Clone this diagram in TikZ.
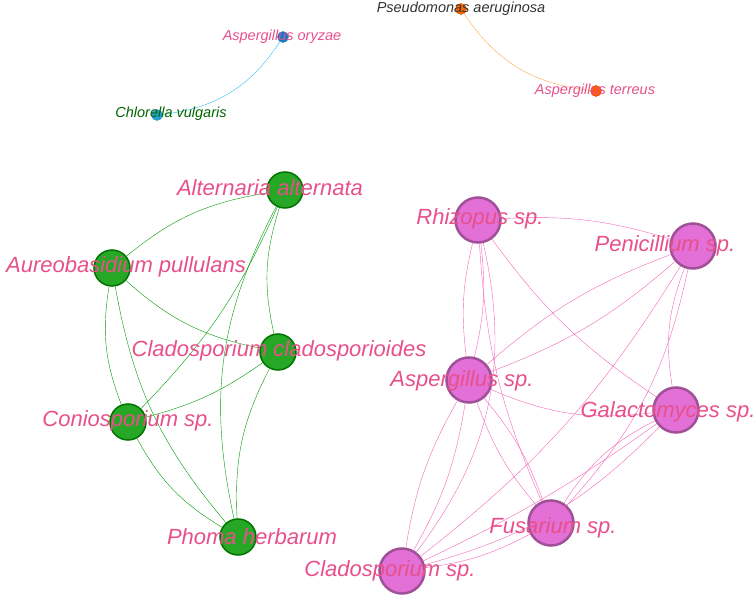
\documentclass[tikz,border=0pt]{standalone}
\usepackage{fontspec}
\setmainfont{Liberation Sans}
\begin{document}
\begin{tikzpicture}[x=1pt,y=-1pt,
 gn/.style={circle,draw=green!45!black,line width=1.5pt,fill=green!60!black!85,minimum size=36pt,inner sep=0},
 pn/.style={circle,draw=pborder,line width=2.5pt,fill=pfill,minimum size=45pt,inner sep=0},
 sn/.style={circle,minimum size=11pt,inner sep=0,draw=#1!80!black,fill=#1},
 big/.style={font=\itshape\fontsize{22}{22}\selectfont,text=labpink},
 sml/.style={font=\itshape\fontsize{14.5}{14.5}\selectfont},
 ge/.style={draw=green!60!black,line width=0.4pt},
 pe/.style={draw=magenta!60,line width=0.4pt}]
\definecolor{labpink}{RGB}{232,80,138}
\definecolor{pfill}{RGB}{226,112,214}
\definecolor{pborder}{RGB}{160,80,150}
\useasboundingbox (0,0) rectangle (756,601);
% small nodes
\node[sn=cyan!60!blue] (ao) at (283,37) {};
\node[sn=cyan!70!teal] (cv) at (157,115) {};
\node[sn=orange!80!red] (pa) at (461,9) {};
\node[sn=orange!70!red] (at) at (596,91) {};
\draw[cyan!80] (cv) to[bend right=25] (ao);
\draw[orange!70] (pa) to[bend right=25] (at);
% green
\node[gn] (alt) at (285,190) {};
\node[gn] (aur) at (112,268) {};
\node[gn] (cla) at (278,352) {};
\node[gn] (con) at (128,422) {};
\node[gn] (pho) at (238,537) {};
\foreach \a/\b/\c in {alt/aur/-15,alt/cla/-15,alt/con/10,alt/pho/-20,aur/cla/-15,aur/con/-15,aur/pho/-15,cla/con/10,cla/pho/-15,con/pho/-15}
  \draw[ge] (\a) to[bend left=\c] (\b);
% pink
\node[pn] (rhi) at (478,220) {};
\node[pn] (pen) at (693,246) {};
\node[pn] (asp) at (469,380) {};
\node[pn] (gal) at (676,410) {};
\node[pn] (fus) at (551,523) {};
\node[pn] (clp) at (402,571) {};
\foreach \a/\b/\c in {rhi/pen/10,rhi/asp/10,rhi/asp/-10,rhi/gal/-10,rhi/fus/-10,rhi/clp/25,pen/asp/10,pen/asp/-10,pen/gal/-15,pen/fus/15,pen/clp/10,asp/gal/-15,asp/fus/10,asp/fus/-10,asp/clp/10,asp/clp/-10,gal/fus/-15,gal/clp/15,gal/clp/5,fus/clp/10}
  \draw[pe] (\a) to[bend left=\c] (\b);
% labels
\node[sml,text=labpink] at (282,37) {Aspergillus oryzae};
\node[sml,text=green!40!black] at (171,114) {Chlorella vulgaris};
\node[sml,text=black!80] at (461,9) {Pseudomonas aeruginosa};
\node[sml,text=labpink] at (595,91) {Aspergillus terreus};
\node[big] at (270,188) {Alternaria alternata};
\node[big] at (126,267) {Aureobasidium pullulans};
\node[big] at (279,351) {Cladosporium cladosporioides};
\node[big] at (128,421) {Coniosporium sp.};
\node[big] at (252,537) {Phoma herbarum};
\node[big] at (480,219) {Rhizopus sp.};
\node[big] at (665,246) {Penicillium sp.};
\node[big] at (462,381) {Aspergillus sp.};
\node[big] at (668,412) {Galactomyces sp.};
\node[big] at (553,528) {Fusarium sp.};
\node[big] at (390,571) {Cladosporium sp.};
\end{tikzpicture}
\end{document}
